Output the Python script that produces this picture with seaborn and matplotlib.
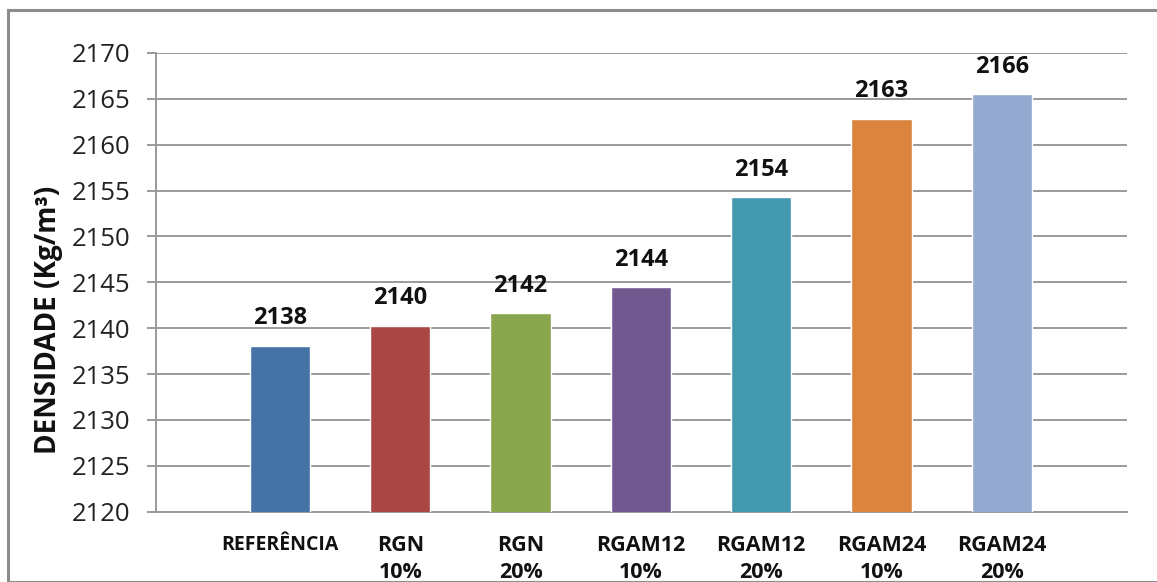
import matplotlib
matplotlib.use("Agg")
import matplotlib.pyplot as plt
import seaborn as sns
from matplotlib.patches import Rectangle

# Densidade aparente das misturas
categorias = ["REFERÊNCIA", "RGN\n10%", "RGN\n20%", "RGAM12\n10%",
              "RGAM12\n20%", "RGAM24\n10%", "RGAM24\n20%"]
densidade = [2138.1, 2140.25, 2141.64, 2144.45, 2154.28, 2162.84, 2165.52]
cores = ["#4572A7", "#AA4643", "#89A54E", "#71588F", "#4198AF", "#DB843D", "#93A9CF"]
yticks = [2120, 2125, 2130, 2135, 2140, 2145, 2150, 2155, 2160, 2165, 2170]

sns.set_theme(style="white")
plt.rcParams["font.family"] = ["Open Sans", "DejaVu Sans"]

fig = plt.figure(figsize=(11.57, 5.82), dpi=100)
ax = fig.add_axes([156 / 1157, 1 - 511.7 / 582, (1127 - 156) / 1157, (511.7 - 53) / 582])

# moldura externa do gráfico
fig.patches.append(Rectangle((8 / 1157, 0), 1.2, 1 - 10 / 582, transform=fig.transFigure,
                             fill=False, edgecolor="#8c8c8c", linewidth=2.2, zorder=0))

sns.barplot(x=categorias, y=densidade, hue=categorias, palette=cores, legend=False,
            width=0.5, ax=ax, saturation=1, zorder=3)

ax.set_ylim(2120, 2170)
ax.set_xlim(-1.03, 7.04)
ax.set_yticks(yticks)
ax.set_yticklabels([str(t) for t in yticks], fontsize=18.5, color="#222222")
ax.yaxis.grid(True, color="#9a9a9a", linewidth=1.4, zorder=0)
ax.set_axisbelow(True)

for s in ["top", "right"]:
    ax.spines[s].set_visible(False)
for s in ["left", "bottom"]:
    ax.spines[s].set_color("#9a9a9a")
    ax.spines[s].set_linewidth(1.4)

ax.tick_params(axis="y", which="major", left=True, length=6.5, width=1.4,
               color="#9a9a9a", pad=12)
ax.tick_params(axis="x", bottom=False, pad=11)

ax.set_xticks(range(len(categorias)))
ax.set_xticklabels(categorias, fontweight="bold", fontsize=15.5, color="#111111",
                   linespacing=1.35, va="top")
ax.get_xticklabels()[0].set_fontsize(14)

ax.set_ylabel("DENSIDADE (Kg/m³)", fontsize=20, fontweight="bold", color="#111111")
ax.yaxis.set_label_coords(-0.096, 0.418)
ax.set_xlabel("")

for i, v in enumerate(densidade):
    ax.annotate(f"{v:.0f}", xy=(i, v), xytext=(0, 15.5), textcoords="offset points",
                ha="center", va="baseline", fontsize=17, fontweight="bold", color="#111111")

fig.savefig("out.png", dpi=100)
